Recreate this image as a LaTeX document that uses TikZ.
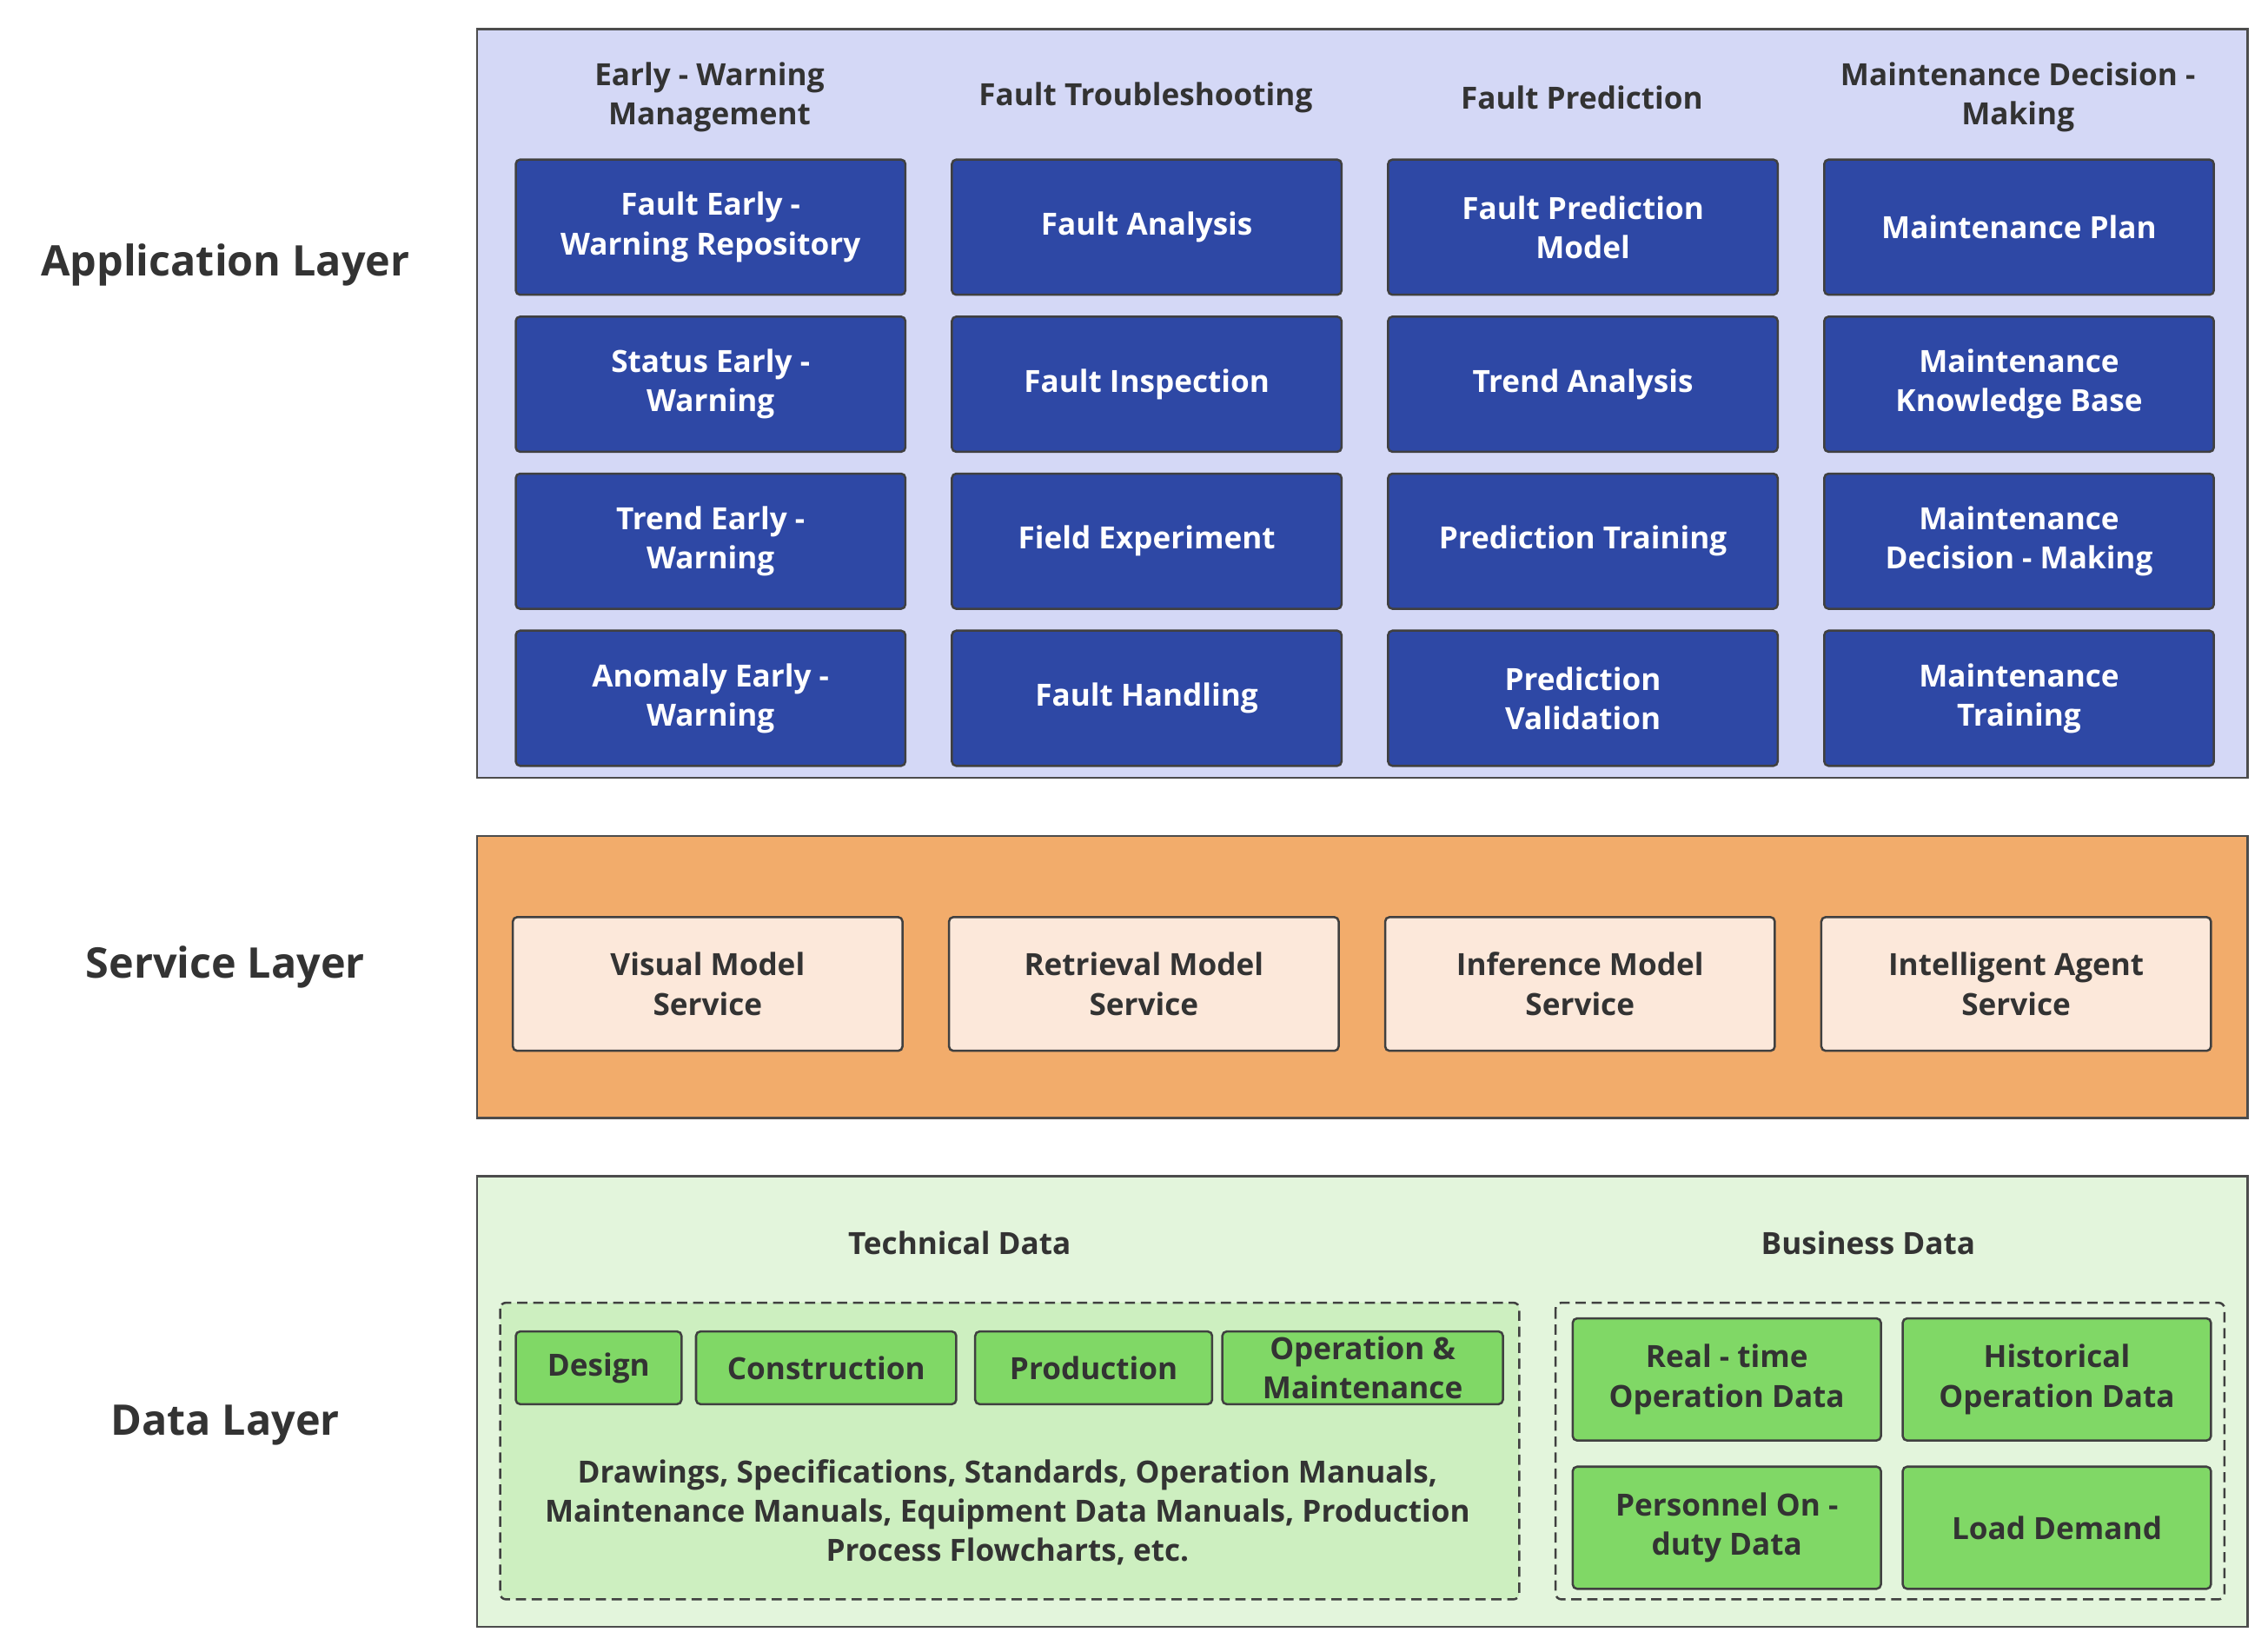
\documentclass[tikz,border=0pt]{standalone}
\usepackage{fontspec}
\setmainfont{Open Sans}
\begin{document}
\begin{tikzpicture}[x=1pt,y=-1pt,
 layer/.style={draw=black!70,line width=1.5pt},
 app/.style={draw=black!75,line width=1.5pt,fill=appblue,rounded corners=3pt,text=white,font=\fontsize{21}{27}\selectfont\bfseries,align=center,minimum width=268pt,minimum height=93pt,anchor=north west,inner sep=0pt},
 svc/.style={draw=black!75,line width=1.5pt,fill=svcfill,rounded corners=3pt,text=black!80,font=\fontsize{21}{27}\selectfont\bfseries,align=center,minimum width=268pt,minimum height=92pt,anchor=north west,inner sep=0pt},
 dat/.style={draw=black!75,line width=1.5pt,fill=datgreen,rounded corners=3pt,text=black!80,font=\fontsize{21}{27}\selectfont\bfseries,align=center,anchor=north west,inner sep=0pt},
 hdr/.style={text=black!80,font=\fontsize{21}{27}\selectfont\bfseries,align=center},
 lay/.style={text=black!80,font=\fontsize{29}{34}\selectfont\bfseries},
 dashbox/.style={draw=black!75,line width=1.5pt,dash pattern=on 7pt off 4pt,rounded corners=4pt}]
\definecolor{appblue}{HTML}{2E48A5}
\definecolor{svcfill}{HTML}{FCE8DA}
\definecolor{datgreen}{HTML}{80D866}
\useasboundingbox[fill=white] (0,0) rectangle (1560,1136);
% layers
\draw[layer,fill={rgb,255:red,212;green,216;blue,246}] (328,20) rectangle (1546,535);
\draw[layer,fill={rgb,255:red,242;green,172;blue,107}] (328,575) rectangle (1546,769);
\draw[layer,fill={rgb,255:red,227;green,245;blue,220}] (328,809) rectangle (1546,1119);
\node[lay] (la) at (155,182) {Application Layer};
\node[lay] (ls) at (155,665) {Service Layer};
\node[lay] (ld) at (155,980) {Data Layer};
% app headers
\node[hdr] (h1) at (488,67) {Early - Warning\\Management};
\node[hdr] (h2) at (788,67) {Fault Troubleshooting};
\node[hdr] (h3) at (1088,67) {Fault Prediction};
\node[hdr] (h4) at (1388,67) {Maintenance Decision -\\Making};
% app boxes
\node[app] (a11) at (354,109) {Fault Early -\\Warning Repository};
\node[app] (a21) at (354,217) {Status Early -\\Warning};
\node[app] (a31) at (354,325) {Trend Early -\\Warning};
\node[app] (a41) at (354,433) {Anomaly Early -\\Warning};
\node[app] (a12) at (654,109) {Fault Analysis};
\node[app] (a22) at (654,217) {Fault Inspection};
\node[app] (a32) at (654,325) {Field Experiment};
\node[app] (a42) at (654,433) {Fault Handling};
\node[app] (a13) at (954,109) {Fault Prediction\\Model};
\node[app] (a23) at (954,217) {Trend Analysis};
\node[app] (a33) at (954,325) {Prediction Training};
\node[app] (a43) at (954,433) {Prediction\\Validation};
\node[app] (a14) at (1254,109) {Maintenance Plan};
\node[app] (a24) at (1254,217) {Maintenance\\Knowledge Base};
\node[app] (a34) at (1254,325) {Maintenance\\Decision - Making};
\node[app] (a44) at (1254,433) {Maintenance\\Training};
% service
\node[svc] (s1) at (352,630) {Visual Model\\Service};
\node[svc] (s2) at (652,630) {Retrieval Model\\Service};
\node[svc] (s3) at (952,630) {Inference Model\\Service};
\node[svc] (s4) at (1252,630) {Intelligent Agent\\Service};
% data
\node[hdr] (tdh) at (660,855) {Technical Data};
\node[hdr] (bdh) at (1285,855) {Business Data};
\draw[dashbox,fill={rgb,255:red,205;green,239;blue,192}] (344,896) rectangle (1045,1100);
\draw[dashbox] (1070,896) rectangle (1530,1100);
\node[dat,minimum width=114pt,minimum height=50pt] (d1) at (354,915) {Design};
\node[dat,minimum width=179pt,minimum height=50pt] (d2) at (478,915) {Construction};
\node[dat,minimum width=163pt,minimum height=50pt] (d3) at (670,915) {Production};
\node[dat,minimum width=193pt,minimum height=50pt] (d4) at (840,915) {Operation \&\\Maintenance};
\node[hdr] (tdt) at (693,1040) {Drawings, Specifications, Standards, Operation Manuals,\\Maintenance Manuals, Equipment Data Manuals, Production\\Process Flowcharts, etc.};
\node[dat,minimum width=212pt,minimum height=84pt] (b1) at (1081,906) {Real - time\\Operation Data};
\node[dat,minimum width=212pt,minimum height=84pt] (b2) at (1308,906) {Historical\\Operation Data};
\node[dat,minimum width=212pt,minimum height=84pt] (b3) at (1081,1008) {Personnel On -\\duty Data};
\node[dat,minimum width=212pt,minimum height=84pt] (b4) at (1308,1008) {Load Demand};
\end{tikzpicture}
\end{document}
